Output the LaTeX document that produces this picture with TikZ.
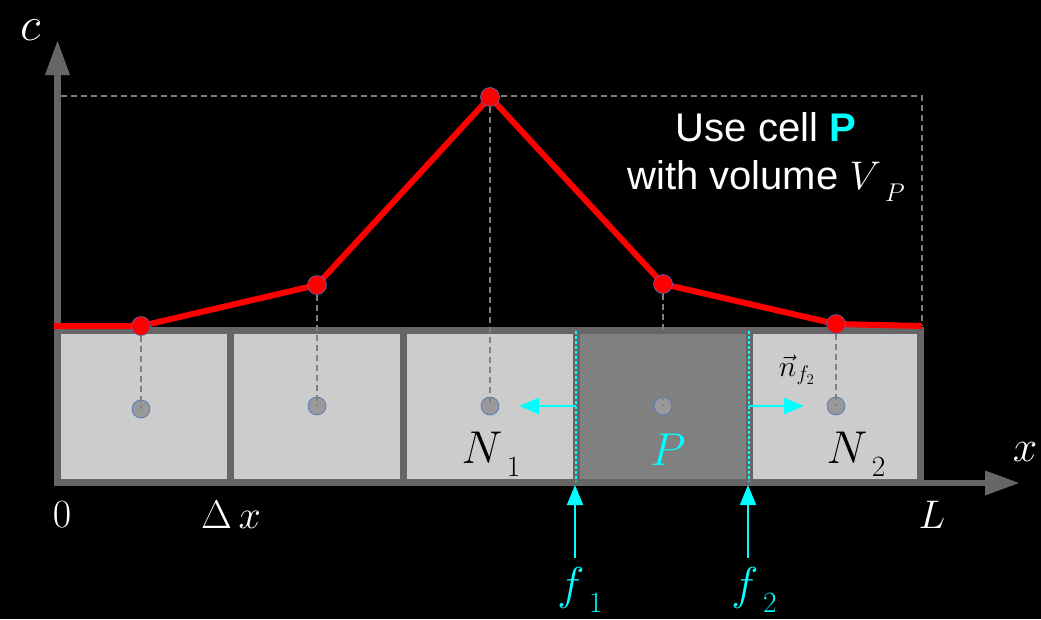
\RequirePackage{fix-cm}
\documentclass[tikz,border=0pt]{standalone}
\usepackage{fontspec}
\newfontfamily\labelsans{Liberation Sans}
\usetikzlibrary{arrows.meta}
\definecolor{axisgrey}{HTML}{666666}
\definecolor{cellgrey}{HTML}{CCCCCC}
\definecolor{pgrey}{HTML}{808080}
\definecolor{dotgrey}{HTML}{999999}
\definecolor{dotedge}{HTML}{4472C4}
\definecolor{faceblue}{HTML}{00FFFF}
\definecolor{guidegrey}{HTML}{808080}
% symbol with a large, low subscript
\newcommand{\lowidx}[2]{$#1$\kern0.1em\raisebox{-0.3em}{\scalebox{0.64}{$#2$}}}

\begin{document}
\begin{tikzpicture}[x=1pt,y=-1pt,
  axis/.style={axisgrey,line width=6.5pt,-{Triangle[length=35pt,width=23pt]}},
  cellbox/.style={draw=axisgrey,line width=7pt,fill=cellgrey},
  guide/.style={guidegrey,line width=1.2pt,dash pattern=on 6pt off 4pt},
  valdot/.style={circle,fill=red,draw=dotedge,line width=0.6pt,inner sep=0pt,minimum size=19pt},
  cdot/.style={circle,fill=dotgrey,draw=dotedge,line width=0.6pt,inner sep=0pt,minimum size=18pt},
  face/.style={faceblue,line width=2pt,dash pattern=on 3pt off 2pt},
  facearrow/.style={faceblue,line width=2pt,-{Triangle[length=20pt,width=16pt]}},
  lbl/.style={white,inner sep=0pt,font=\fontsize{40}{48}\selectfont},
  biglbl/.style={lbl,font=\fontsize{46}{52}\selectfont}]
\fill[black] (0,0) rectangle (1041,619);
\useasboundingbox (0,0) rectangle (1041,619);
% cells
\foreach \xa/\xb in {57.5/230,230/403,403/576,749/920.5}
  \draw[cellbox] (\xa,330.5) rectangle (\xb,482);
\draw[cellbox,fill=pgrey] (576,330.5) rectangle (749,482);
% axes
\coordinate (O) at (57.5,483);
\coordinate (ctop) at (57.5,40);
\coordinate (xend) at (1020,483);
\draw[axis] (O) -- (ctop);
\draw[axis] (O) -- (xend);
% cell centres and values
\foreach \n/\x/\yc/\yv in {a/141/409/326,b/317/406/285,c/490/406/97,d/663/406/284,e/836/406/324} {
  \node[cdot] (m\n) at (\x,\yc) {};
  \coordinate (v\n) at (\x,\yv);
}
\coordinate (lft) at (54,326);
\coordinate (rgt) at (922,326);
\coordinate (tl) at (61,96);
\coordinate (tr) at (922,96);
\draw[guide] (tl) -- (tr) -- (rgt);
\foreach \n in {a,b,c,d,e}
  \draw[guide] (v\n) -- (m\n.center);
% faces
\coordinate (fa) at (576,331);
\coordinate (fb) at (576,482);
\coordinate (ga) at (749,331);
\coordinate (gb) at (749,482);
\draw[face] (fa) -- (fb);
\draw[face] (ga) -- (gb);
\coordinate (nl) at (519,406);
\coordinate (nr) at (804,406);
\draw[facearrow] (576,406) -- (nl);
\draw[facearrow] (749,406) -- (nr);
\coordinate (fla) at (575,558);
\coordinate (flb) at (748,558);
\draw[facearrow] (fla) -- (575,485);
\draw[facearrow] (flb) -- (748,485);
% profile
\draw[red,line width=6pt] (lft) -- (va) -- (vb) -- (vc) -- (vd) -- (ve) -- (rgt);
\foreach \n in {a,b,c,d,e}
  \node[valdot] at (v\n) {};
% labels
\node[lbl,font=\fontsize{48}{52}\selectfont] (clbl) at (31,30) {$c$};
\node[lbl,font=\fontsize{44}{52}\selectfont] (xlbl) at (1025,452) {$x$};
\node[lbl] (zero) at (62,515) {$0$};
\node[lbl] (dx) at (231,515) {$\Delta\,x$};
\node[lbl] (llbl) at (932,515) {$L$};
\node[biglbl,black,anchor=base] (nonel) at (491,463) {\lowidx{N}{1}};
\node[biglbl,faceblue] (plbl) at (668,450) {$P$};
\node[biglbl,black,anchor=base] (ntwol) at (856,463) {\lowidx{N}{2}};
\node[biglbl,faceblue,anchor=base] (fone) at (580,599) {\lowidx{f}{1}};
\node[biglbl,faceblue,anchor=base] (ftwo) at (754,599) {\lowidx{f}{2}};
\node[lbl,black,font=\fontsize{30}{34}\selectfont] (nvec) at (797,370) {$\vec{n}_{f_2}$};
\node[lbl,align=center,font=\labelsans\fontsize{40}{48}\selectfont] (note) at (766,157)
  {Use cell {\bfseries\color{faceblue}P}\\with volume \lowidx{V}{P}};
\end{tikzpicture}
\end{document}
